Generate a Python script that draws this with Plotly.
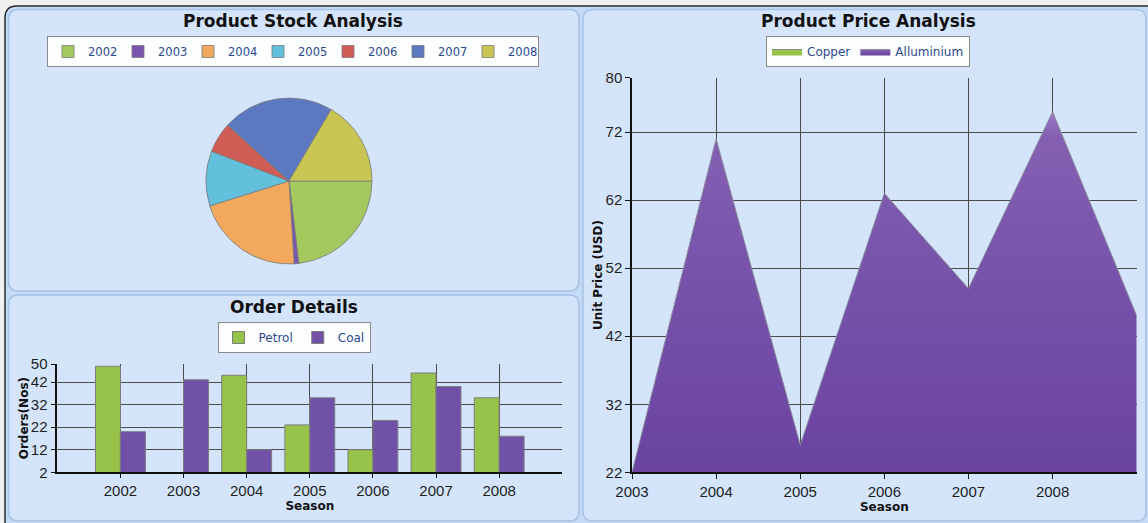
import plotly.graph_objects as go

W, H = 1148, 523

# ---------------- data ----------------
stock_years = ["2002", "2003", "2004", "2005", "2006", "2007", "2008"]
stock_values = [23.1, 0.9, 21.1, 10.7, 5.9, 21.7, 16.5]
stock_colors = ["#a3c95e", "#7a55b0", "#f2a95e", "#62c0dc", "#cf5d56", "#5b78c0", "#c9c552"]

order_years = [2002, 2003, 2004, 2005, 2006, 2007, 2008]
petrol = [49, 0, 45, 23, 12, 46, 35]
coal = [20, 43, 12, 35, 25, 40, 18]

price_years = [2003, 2004, 2005, 2006, 2007, 2008, 2009]
alluminium = [22, 71, 26, 63, 49, 75, 45]
copper = [None]  # not visible in the chart, legend entry only

order_ticks = [2, 12, 22, 32, 42, 50]
price_ticks = [22, 32, 42, 52, 62, 72, 80]


def fx(x):
    return x / W


def fy(y):
    return 1 - y / H


def rrect(x0, y0, x1, y1, r):
    pts = []
    pts.append(f"M {fx(x0 + r)},{fy(y0)}")
    pts.append(f"L {fx(x1 - r)},{fy(y0)}")
    pts.append(f"Q {fx(x1)},{fy(y0)} {fx(x1)},{fy(y0 + r)}")
    pts.append(f"L {fx(x1)},{fy(y1 - r)}")
    pts.append(f"Q {fx(x1)},{fy(y1)} {fx(x1 - r)},{fy(y1)}")
    pts.append(f"L {fx(x0 + r)},{fy(y1)}")
    pts.append(f"Q {fx(x0)},{fy(y1)} {fx(x0)},{fy(y1 - r)}")
    pts.append(f"L {fx(x0)},{fy(y0 + r)}")
    pts.append(f"Q {fx(x0)},{fy(y0)} {fx(x0 + r)},{fy(y0)}")
    pts.append("Z")
    return " ".join(pts)


TICKFONT = dict(family="Liberation Sans, Arial, sans-serif", size=15, color="#1e1e1e")
TITLEFONT = dict(family="DejaVu Sans, Verdana, sans-serif", size=12, color="#111111", weight="bold")
LEGFONT = dict(family="DejaVu Sans, Verdana, sans-serif", size=12, color="#2b4a8c")
GRID = "#4a4a4a"

fig = go.Figure()

# Pie
fig.add_trace(go.Pie(
    labels=stock_years, values=stock_values, sort=False,
    direction="clockwise", rotation=90,
    marker=dict(colors=stock_colors, line=dict(color="#7a7a7a", width=0.8)),
    textinfo="none", legend="legend",
    domain=dict(x=[fx(206), fx(372)], y=[fy(264), fy(98)]),
))

# Bars
fig.add_trace(go.Bar(
    name="Petrol", x=order_years, y=petrol, xaxis="x", yaxis="y",
    marker=dict(color="#98c34b", line=dict(color="#7d7d7d", width=1)),
    legend="legend2",
))
fig.add_trace(go.Bar(
    name="Coal", x=order_years, y=coal, xaxis="x", yaxis="y",
    marker=dict(color="#7150a8", line=dict(color="#7d7d7d", width=1)),
    legend="legend2",
))

# Area
fig.add_trace(go.Scatter(
    name="Copper", x=copper, y=copper, xaxis="x2", yaxis="y2",
    mode="lines", fill="tozeroy", fillcolor="#98c34b",
    line=dict(color="#8a8a8a", width=1), legend="legend3",
))
fig.add_trace(go.Scatter(
    name="Alluminium", x=price_years, y=alluminium, xaxis="x2", yaxis="y2",
    mode="lines", fill="tozeroy",
    fillgradient=dict(type="vertical", start=22, stop=80,
                      colorscale=[[0, "#6a43a1"], [0.6, "#7a56ac"], [0.85, "#8560b2"], [1, "#b394dc"]]),
    line=dict(color="#8c8c9c", width=1), legend="legend3",
))

# shapes: frame and panels
shapes = [
    dict(type="path", path=rrect(5, 6, 1160, 540, 12), xref="paper", yref="paper",
         fillcolor="#c3daf8", line=dict(color="#2a2a2a", width=1.5), layer="below"),
    dict(type="path", path=rrect(8.5, 9.5, 579, 291, 10), xref="paper", yref="paper",
         fillcolor="#d4e5fb", line=dict(color="#a6c2e6", width=1.5), layer="below"),
    dict(type="path", path=rrect(8.5, 295, 579, 521, 10), xref="paper", yref="paper",
         fillcolor="#d4e5fb", line=dict(color="#a6c2e6", width=1.5), layer="below"),
    dict(type="path", path=rrect(583, 9.5, 1146, 521, 10), xref="paper", yref="paper",
         fillcolor="#d4e5fb", line=dict(color="#a6c2e6", width=1.5), layer="below"),
]

TFONT = dict(family="DejaVu Sans, Verdana, sans-serif", size=17, color="#111111")
annotations = [
    dict(text="<b>Product Stock Analysis</b>", x=fx(293), y=fy(21), xref="paper", yref="paper",
         showarrow=False, xanchor="center", yanchor="middle", font=TFONT),
    dict(text="<b>Order Details</b>", x=fx(294), y=fy(307), xref="paper", yref="paper",
         showarrow=False, xanchor="center", yanchor="middle", font=TFONT),
    dict(text="<b>Product Price Analysis</b>", x=fx(868), y=fy(21), xref="paper", yref="paper",
         showarrow=False, xanchor="center", yanchor="middle", font=TFONT),
]

legend_common = dict(orientation="h", xanchor="center", yanchor="top",
                     bgcolor="rgba(255,255,255,0.92)", bordercolor="#8a8a8a", borderwidth=1)

fig.update_layout(
    width=W, height=H,
    autosize=False,
    margin=dict(l=0, r=0, t=0, b=0, pad=0, autoexpand=False),
    paper_bgcolor="#f0f0f0",
    plot_bgcolor="rgba(0,0,0,0)",
    barmode="group", bargap=0.21, bargroupgap=0,
    shapes=shapes,
    annotations=annotations,
    legend=dict(x=fx(293), y=fy(36), font=dict(LEGFONT, size=11.5),
                entrywidth=25, entrywidthmode="pixels", **legend_common),
    legend2=dict(x=fx(294), y=fy(322), font=LEGFONT, **legend_common),
    legend3=dict(x=fx(868), y=fy(36), font=LEGFONT, **legend_common),
    xaxis=dict(
        domain=[fx(57.3), fx(562.3)], anchor="y", range=[2001, 2009], automargin=False,
        tickmode="array", tickvals=order_years, ticktext=[str(v) for v in order_years],
        showgrid=True, gridcolor=GRID, gridwidth=1,
        minor=dict(tickmode="array", tickvals=[2009], showgrid=True, gridcolor="#777777", ticks=""),
        showline=True, linecolor="#111111", linewidth=1.5,
        ticks="outside", ticklen=4, tickcolor="#111111",
        tickfont=TICKFONT, zeroline=False,
        title=dict(text="Season", font=TITLEFONT, standoff=2),
    ),
    yaxis=dict(
        domain=[fy(472.3), fy(364)], anchor="x", range=[2, 50], automargin=False,
        tickmode="array", tickvals=order_ticks,
        showgrid=True, gridcolor=GRID, gridwidth=1,
        showline=True, linecolor="#111111", linewidth=1.5,
        ticks="outside", ticklen=5, tickcolor="#111111",
        tickfont=TICKFONT, zeroline=False,
        title=dict(text="Orders(Nos)", font=TITLEFONT, standoff=0),
    ),
    xaxis2=dict(
        domain=[fx(632), fx(1136.7)], anchor="y2", range=[2003, 2009], automargin=False,
        tickmode="array", tickvals=price_years[:-1], ticktext=[str(v) for v in price_years[:-1]],
        showgrid=True, gridcolor=GRID, gridwidth=1,
        minor=dict(tickmode="array", tickvals=[2009], showgrid=True, gridcolor="#777777", ticks=""),
        showline=True, linecolor="#111111", linewidth=1.5,
        ticks="outside", ticklen=5, tickcolor="#111111",
        tickfont=TICKFONT, zeroline=False, layer="above traces",
        title=dict(text="Season", font=TITLEFONT, standoff=2),
    ),
    yaxis2=dict(
        domain=[fy(472.3), fy(77.7)], anchor="x2", range=[22, 80], automargin=False,
        tickmode="array", tickvals=price_ticks,
        showgrid=True, gridcolor=GRID, gridwidth=1,
        showline=True, linecolor="#111111", linewidth=1.5,
        ticks="outside", ticklen=5, tickcolor="#111111",
        tickfont=TICKFONT, zeroline=False, layer="above traces",
        title=dict(text="Unit Price (USD)", font=TITLEFONT, standoff=0),
    ),
)

fig.write_html(
    "out.html",
    config=dict(responsive=False, displayModeBar=False),
    post_script="document.body.style.margin='0px';document.body.style.background='#f0f0f0';",
)
